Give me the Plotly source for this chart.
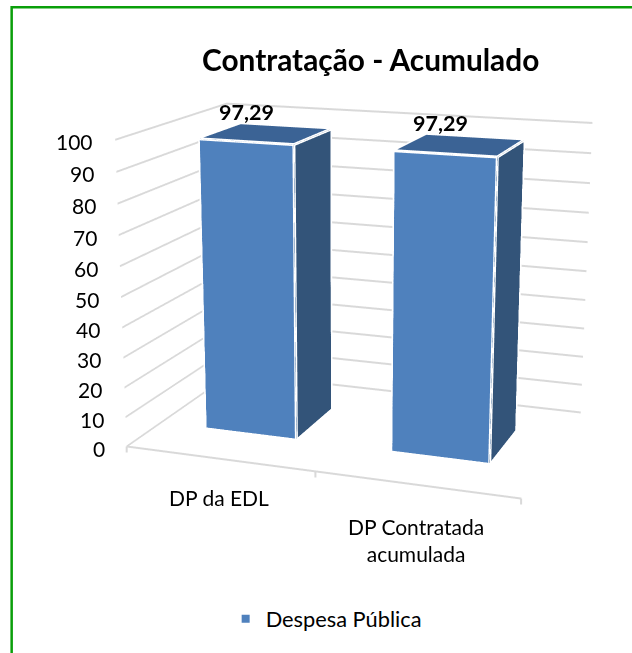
import plotly.graph_objects as go

categories = ["DP da EDL", "DP Contratada<br>acumulada"]
values = [97.29, 97.29]
value_labels = ["97,29", "97,29"]
z_ticks = list(range(0, 101, 10))
x_edges = [0, 1, 2]
series_name = "Despesa Pública"
W, H = 632, 653

# Camera and box geometry of the perspective view
ex, ey, ez = 1.3050, -3.6894, 1.0018
cx, cy, cz = -0.0125, -0.0779, -0.0426
ay, az = 0.6405, 0.7643
hw, yf, yb = 0.2472, 0.3051, 0.6926
K, ox, oy = 2.0590, 345.3430, 307.3087

FW, FH = int(round(W * K)), int(round(H * K))
left, top = ox - FW / 2, oy - FH / 2
px = lambda v: (v - left) / FW
py = lambda v: 1 - (v - top) / FH

fig = go.Figure()
for i, v in enumerate(values):
    x0, x1 = i + .5 - hw, i + .5 + hw
    xs = [x0, x1, x1, x0, x0, x1, x1, x0]
    ys = [yf, yf, yb, yb, yf, yf, yb, yb]
    zs = [0, 0, 0, 0, v, v, v, v]
    fig.add_trace(go.Mesh3d(x=xs, y=ys, z=zs, i=[0, 0, 1, 1, 4, 4], j=[1, 5, 2, 6, 5, 6], k=[5, 4, 6, 5, 6, 7],
                            facecolor=["#4F81BD"] * 2 + ["#335479"] * 2 + ["#3B6395"] * 2, flatshading=True,
                            lighting=dict(ambient=1, diffuse=0, specular=0, fresnel=0, roughness=1),
                            hoverinfo="skip", showlegend=False))
    ed = [(0, 1), (1, 2), (0, 4), (1, 5), (2, 6), (4, 5), (5, 6), (6, 7), (7, 4)]
    lx, ly, lz = [], [], []
    for a, b in ed:
        lx += [xs[a], xs[b], None]
        ly += [ys[a], ys[b], None]
        lz += [zs[a], zs[b], None]
    fig.add_trace(go.Scatter3d(x=lx, y=ly, z=lz, mode="lines", line=dict(color="white", width=6),
                               hoverinfo="skip", showlegend=False))
fig.add_trace(go.Scatter3d(x=[None], y=[None], z=[None], mode="markers", name=series_name,
                           marker=dict(symbol="square", size=8, color="#4F81BD"), showlegend=True))
ann = []
F = "Lato"
for t in z_ticks:
    ann.append(dict(x=0, y=0, z=t, text=str(t), showarrow=False, xanchor="right", xshift=-20, yshift=-2,
                    font=dict(family=F, size=21, color="black")))
cat_shift = [-39, -55]
for i, (c_, v, l) in enumerate(zip(categories, values, value_labels)):
    ann.append(dict(x=i + .5, y=0, z=0, text=c_, showarrow=False, yshift=cat_shift[i],
                    font=dict(family=F, size=21, color="black")))
    ann.append(dict(x=i + .5, y=(yf + yb) / 2, z=v, text=l, showarrow=False, xshift=-20, yshift=22,
                    font=dict(family=F, size=21.5, color="black", weight="bold")))
for e in x_edges:
    ann.append(dict(x=e, y=0, z=0, text=" ", showarrow=True, arrowhead=0, arrowwidth=2, arrowcolor="#D9D9D9",
                    ax=0, ay=8, standoff=0, font=dict(size=1)))
ax = dict(showbackground=False, showticklabels=False, title="", showspikes=False, zeroline=False)
fig.update_layout(
    width=FW, height=FH, margin=dict(l=0, r=0, t=0, b=0), paper_bgcolor="white",
    title=dict(text="<b>Contratação - Acumulado</b>", x=px(370.5), xanchor="center", y=py(60), yanchor="middle",
               font=dict(family=F, size=29.8, color="black")),
    legend=dict(x=px(326), xanchor="center", y=py(619), yanchor="middle",
                font=dict(family=F, size=21.8, color="black")),
    scene=dict(domain=dict(x=[0, 1], y=[0, 1]), aspectmode="manual", aspectratio=dict(x=1, y=ay, z=az),
               camera=dict(eye=dict(x=ex, y=ey, z=ez), center=dict(x=cx, y=cy, z=cz), up=dict(x=0, y=0, z=1)),
               xaxis=dict(ax, range=[0, 2], tickvals=x_edges, showgrid=False, showline=True, linecolor="#D9D9D9",
                          linewidth=4, ticks=""),
               yaxis=dict(ax, range=[0, 1], showgrid=False, showline=False),
               zaxis=dict(ax, range=[0, 100], tickvals=z_ticks, showgrid=True, gridcolor="#D9D9D9", gridwidth=4,
                          showline=False),
               annotations=ann),
    shapes=[dict(type="rect", xref="paper", yref="paper", x0=px(11.5), x1=px(W + 20), y0=py(H + 20), y1=py(7),
                 line=dict(color="#0A9F0A", width=2.5), layer="above")])
ps = ("var gd=document.getElementById('{plot_id}');document.documentElement.style.overflow='hidden';"
      "document.body.style.overflow='hidden';document.body.style.margin='0';gd.style.position='absolute';"
      "gd.style.left='%.1fpx';gd.style.top='%.1fpx';" % (left, top))
fig.write_html("out.html", post_script=ps)
